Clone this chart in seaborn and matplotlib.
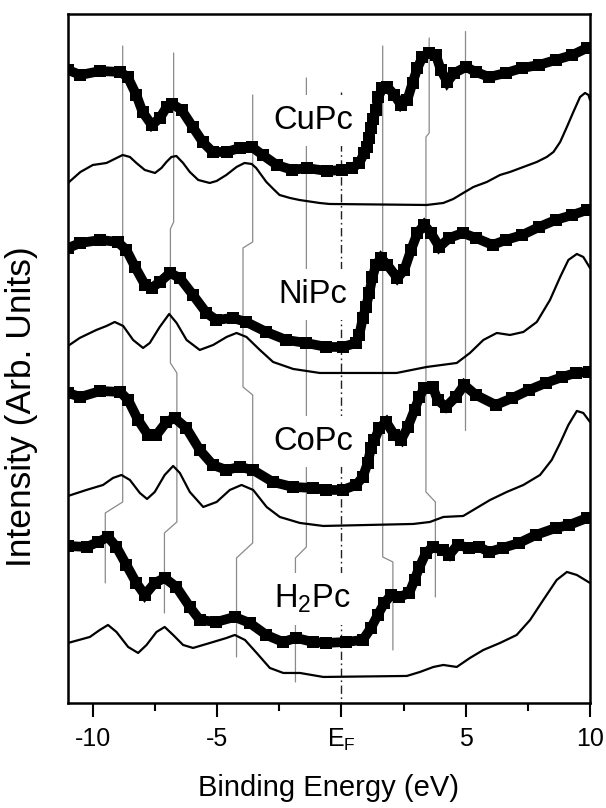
import matplotlib
matplotlib.use("Agg")
import matplotlib.pyplot as plt
import seaborn as sns

# ---------------- data (energies in eV, intensities in arb. units, stacked) ----------------
cupc_exp_E = [-11.0, -10.5, -9.7, -8.9, -8.6, -8.25, -8.0, -7.63, -7.3, -7.03, -6.8, -6.43, -5.98, -5.58,
              -5.18, -4.62, -4.1, -3.6, -3.17, -2.6, -1.97, -1.4, -0.6, 0.04, 0.44, 0.72, 0.92, 1.03,
              1.12, 1.2, 1.29, 1.39, 1.49, 1.65, 1.85, 2.13, 2.4, 2.65, 2.86, 3.06, 3.26, 3.53, 3.8,
              4.0, 4.26, 4.54, 5.01, 5.41, 5.94, 6.61, 7.28, 7.95, 8.62, 9.29, 9.88]
cupc_exp_I = [640, 635, 639, 638, 633, 615, 598, 585, 592, 603, 606, 600, 583, 568,
              558, 558, 562, 563, 555, 545, 540, 542, 539, 540, 542, 547, 557, 563,
              572, 582, 591, 600, 613, 622, 623, 615, 605, 610, 627, 642, 653, 657, 655,
              640, 628, 637, 643, 638, 633, 637, 642, 645, 650, 655, 662]
cupc_th_E = [-11.0, -10.5, -10.0, -9.45, -8.8, -8.51, -8.25, -7.91, -7.5, -7.24, -7.04, -6.84, -6.64,
             -6.37, -6.1, -5.76, -5.3, -5.02, -4.63, -4.22, -3.9, -3.61, -3.43, -3.02, -2.74, -2.49,
             -2.07, -1.69, -0.88, -0.48, 3.43, 4.10, 4.50, 4.90, 5.31, 5.85, 6.38, 6.78, 7.32, 7.86,
             8.26, 8.53, 8.80, 9.07, 9.33, 9.60, 9.80, 9.94, 10.0]
cupc_th_I = [527, 538, 545, 547, 555, 553, 547, 540, 537, 542, 548, 553, 554,
             547, 538, 530, 527, 529, 535, 543, 547, 546, 542, 528, 521, 515,
             512, 510, 507, 506, 505, 507, 511, 517, 523, 528, 535, 538, 543, 548,
             553, 558, 568, 583, 598, 613, 617, 615, 610]

nipc_exp_E = [-11.0, -10.5, -9.7, -9.0, -8.65, -8.3, -7.9, -7.64, -7.3, -6.9, -6.5, -5.97, -5.43,
              -5.03, -4.38, -3.83, -3.02, -2.22, -1.42, -0.61, 0.05, 0.59, 0.72, 0.86, 0.99, 1.12,
              1.25, 1.39, 1.59, 1.85, 2.25, 2.53, 2.8, 3.06, 3.33, 3.6, 3.94, 4.34, 4.88, 5.41,
              6.08, 6.61, 7.28, 7.95, 8.62, 9.29, 9.89]
nipc_exp_I = [462, 467, 470, 468, 460, 443, 425, 422, 428, 437, 432, 415, 397,
              390, 392, 388, 378, 370, 367, 363, 363, 367, 375, 392, 403, 417,
              433, 445, 452, 445, 432, 440, 460, 477, 485, 477, 463, 472, 477, 472,
              465, 470, 475, 483, 490, 495, 500]
nipc_th_E = [-11.0, -10.53, -9.86, -9.45, -9.12, -8.78, -8.38, -7.98, -7.71, -7.31, -6.93, -6.63,
             -6.23, -5.70, -5.16, -4.62, -4.22, -3.82, -3.28, -2.75, -1.94, -0.87, 2.22, 3.43,
             4.64, 5.17, 5.71, 6.25, 6.78, 7.32, 7.86, 8.39, 8.80, 9.13, 9.47, 9.73, 10.0]
nipc_th_I = [364, 372, 380, 384, 388, 384, 370, 362, 367, 383, 396, 387,
             370, 360, 365, 373, 377, 373, 360, 348, 341, 337, 337, 343,
             347, 357, 370, 377, 375, 378, 388, 410, 433, 450, 456, 453, 442]

copc_exp_E = [-11.0, -10.5, -9.7, -8.9, -8.58, -8.18, -7.78, -7.44, -7.04, -6.71, -6.24, -5.7, -5.17,
              -4.63, -4.1, -3.56, -2.76, -1.96, -1.15, -0.61, 0.05, 0.59, 0.86, 1.06, 1.19, 1.33,
              1.53, 1.8, 2.13, 2.4, 2.67, 2.94, 3.14, 3.33, 3.67, 3.87, 4.2, 4.6, 4.94, 5.41, 6.21,
              6.88, 7.55, 8.22, 8.89, 9.42, 9.96]
copc_exp_I = [317, 313, 319, 318, 310, 290, 275, 275, 288, 292, 282, 260, 245,
              240, 243, 240, 228, 223, 222, 220, 220, 225, 233, 247, 262, 270,
              282, 288, 275, 270, 283, 300, 313, 322, 323, 310, 303, 313, 325, 315, 305,
              312, 320, 327, 333, 337, 338]
copc_th_E = [-11.0, -10.26, -9.59, -9.19, -8.85, -8.51, -8.11, -7.82, -7.51, -7.11, -6.77, -6.50,
             -6.10, -5.56, -5.02, -4.49, -4.02, -3.55, -3.01, -2.48, -1.67, -0.73, 2.89, 3.56,
             4.10, 4.90, 5.44, 5.98, 6.65, 7.32, 7.99, 8.46, 8.80, 9.13, 9.47, 9.73, 10.0]
copc_th_I = [214, 220, 225, 232, 235, 230, 217, 211, 218, 235, 244, 237,
             218, 203, 208, 220, 225, 220, 203, 193, 187, 184, 186, 188,
             193, 194, 202, 210, 218, 225, 235, 250, 267, 285, 299, 297, 288]

h2pc_exp_E = [-11.0, -10.25, -9.79, -9.39, -9.05, -8.65, -8.25, -7.91, -7.51, -7.11, -6.64, -6.1,
              -5.7, -5.03, -4.3, -3.69, -3.02, -2.36, -1.82, -1.15, -0.61, 0.19, 0.86, 1.19, 1.46,
              1.73, 2.0, 2.33, 2.73, 2.94, 3.14, 3.4, 3.67, 4.07, 4.34, 4.67, 5.14, 5.54, 5.94,
              6.48, 7.15, 7.82, 8.62, 9.16, 9.89]
h2pc_exp_I = [164, 163, 168, 173, 163, 145, 127, 115, 127, 132, 123, 103,
              90, 88, 93, 87, 75, 68, 72, 68, 67, 68, 70, 82, 95,
              107, 115, 113, 117, 130, 143, 157, 163, 160, 155, 165, 162, 163, 158,
              162, 167, 175, 182, 185, 192]
h2pc_th_E = [-11.0, -10.12, -9.72, -9.39, -9.05, -8.58, -8.18, -7.84, -7.44, -7.11, -6.77, -6.37,
             -5.97, -5.29, -4.62, -4.29, -3.88, -3.41, -2.88, -2.34, -1.67, -0.73, 2.63, 3.16,
             3.70, 4.10, 4.64, 5.17, 5.71, 6.38, 7.05, 7.59, 8.12, 8.66, 9.07, 9.47, 10.0]
h2pc_th_I = [67, 73, 80, 85, 78, 63, 57, 65, 78, 83, 75, 65,
             62, 67, 72, 75, 70, 57, 42, 37, 37, 33, 34, 38,
             43, 45, 43, 52, 60, 67, 75, 90, 110, 130, 138, 135, 127]

# peak-tracking guide lines (energy, intensity)
guide1_E = [-8.8, -8.8, -9.5, -9.5]
guide1_I = [664, 208, 197, 127]
guide2_E = [-6.75, -6.75, -6.88, -6.88, -6.62, -6.62, -7.12, -7.12]
guide2_I = [657, 488, 481, 347, 337, 188, 177, 97]
guide3_E = [-3.57, -3.57, -3.96, -3.96, -3.57, -3.57, -4.22, -4.22]
guide3_I = [615, 468, 462, 323, 315, 167, 152, 53]
guide4_E = [-1.41, -1.41, -1.85, -1.85]
guide4_I = [632, 163, 152, 28]
guide5_E = [1.66, 1.66, 2.07, 2.07]
guide5_I = [664, 153, 148, 60]
guide6_E = [3.53, 3.53, 3.40, 3.40, 3.78, 3.78]
guide6_I = [672, 577, 573, 218, 208, 113]
guide7_E = [4.99, 4.99]
guide7_I = [679, 280]
fermi_E = [0.0, 0.0]
fermi_I = [618, 0]

labels = ["CuPc", "NiPc", "CoPc", r"H$_2$Pc"]
label_E = [-1.15, -1.15, -1.15, -1.15]
label_I = [581, 407, 260, 102]

xticks = [-10, -5, 0, 5, 10]
xticklabels = ["-10", "-5", r"E$_\mathrm{F}$", "5", "10"]
xminor = [-7.5, -2.5, 2.5, 7.5]

# ---------------- styling ----------------
sns.set_theme(style="white")
plt.rcParams["font.family"] = ["Liberation Sans", "DejaVu Sans"]
plt.rcParams["mathtext.fontset"] = "custom"
plt.rcParams["mathtext.rm"] = "Liberation Sans"
plt.rcParams["mathtext.it"] = "Liberation Sans:italic"
plt.rcParams["mathtext.bf"] = "Liberation Sans:bold"

fig = plt.figure(figsize=(6.06, 8.08), dpi=100)
ax = fig.add_axes([0.1122, 0.1300, 0.8614, 0.8527])

guides = [(guide1_E, guide1_I), (guide2_E, guide2_I), (guide3_E, guide3_I), (guide4_E, guide4_I),
          (guide5_E, guide5_I), (guide6_E, guide6_I), (guide7_E, guide7_I)]
for gE, gI in guides:
    ax.plot(gE, gI, color="#8a8a8a", linewidth=0.9, zorder=1)
ax.plot(fermi_E, fermi_I, color="#222222", linewidth=1.0,
        linestyle=(0, (6, 2.5, 1.2, 2.5)), zorder=1)

for name, tx, ty in zip(labels, label_E, label_I):
    ax.text(tx, ty, name, ha="center", va="baseline", fontsize=23.5, color="black",
            bbox=dict(facecolor="white", edgecolor="none", boxstyle="square,pad=0.3"), zorder=2)

exp_sets = [(cupc_exp_E, cupc_exp_I), (nipc_exp_E, nipc_exp_I),
            (copc_exp_E, copc_exp_I), (h2pc_exp_E, h2pc_exp_I)]
th_sets = [(cupc_th_E, cupc_th_I), (nipc_th_E, nipc_th_I),
           (copc_th_E, copc_th_I), (h2pc_th_E, h2pc_th_I)]

for tE, tI in th_sets:
    sns.lineplot(x=tE, y=tI, ax=ax, color="black", linewidth=1.6, estimator=None,
                 sort=False, zorder=3, solid_joinstyle="round")
for eE, eI in exp_sets:
    sns.lineplot(x=eE, y=eI, ax=ax, color="black", linewidth=7.0, marker="s", markersize=8,
                 markeredgewidth=0, estimator=None, sort=False, zorder=4,
                 solid_capstyle="butt", solid_joinstyle="miter")

ax.set_xlim(-11, 10)
ax.set_ylim(7, 696)
ax.set_yticks([])
ax.set_xticks(xticks)
ax.set_xticklabels(xticklabels)
ax.set_xticks(xminor, minor=True)
ax.tick_params(axis="x", which="major", direction="out", length=10, width=1.5,
               bottom=True, labelsize=18, pad=7, colors="black")
ax.tick_params(axis="x", which="minor", direction="out", length=5.5, width=1.5,
               bottom=True, colors="black")
for sp in ax.spines.values():
    sp.set_visible(True)
    sp.set_color("black")
    sp.set_linewidth(1.8)

ax.set_xlabel("Binding Energy (eV)", fontsize=21, labelpad=15, color="black")
ax.set_ylabel("Intensity (Arb. Units)", fontsize=25.5, color="black")
ax.yaxis.set_label_coords(-0.058, 0.43)

fig.savefig("out.png", dpi=100)
